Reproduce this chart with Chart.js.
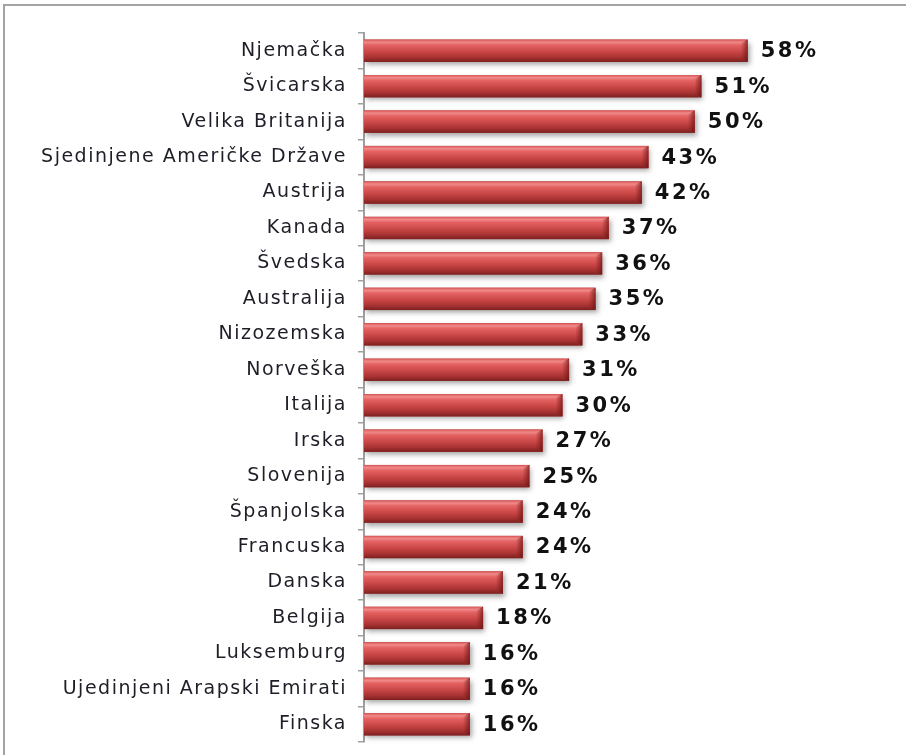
<!DOCTYPE html>
<html>
<head>
<meta charset="utf-8">
<script src="https://cdn.jsdelivr.net/npm/chart.js@4"></script>
<style>
    html, body { margin: 0; padding: 0; background: #fff; }
    .frame {
        position: absolute; left: 3px; top: 4px; width: 903px; height: 751px;
        border-top: 2px solid #a3a3a3; border-left: 2px solid #a3a3a3;
    }
    #chart { position: absolute; left: 0; top: 0; }
</style>
</head>
<body>
<div class="frame"></div>
<canvas id="chart" width="906" height="755"></canvas>
<script>
const countries = [
    'Njemačka', 'Švicarska', 'Velika Britanija', 'Sjedinjene Američke Države', 'Austrija',
    'Kanada', 'Švedska', 'Australija', 'Nizozemska', 'Norveška',
    'Italija', 'Irska', 'Slovenija', 'Španjolska', 'Francuska',
    'Danska', 'Belgija', 'Luksemburg', 'Ujedinjeni Arapski Emirati', 'Finska'
];
const shares = [58, 51, 50, 43, 42, 37, 36, 35, 33, 31, 30, 27, 25, 24, 24, 21, 18, 16, 16, 16];
const xMax = 78;

// wide Verdana-like spacing for all text
const spacing = {
    id: 'spacing',
    beforeLayout(chart) { chart.ctx.letterSpacing = '1.5px'; },
    beforeDraw(chart) { chart.ctx.letterSpacing = '1.5px'; }
};

// draws the bevelled red bars and the value labels
const barLook = {
    id: 'barLook',
    afterDatasetsDraw(chart) {
        const ctx = chart.ctx;
        const meta = chart.getDatasetMeta(0);
        meta.data.forEach((bar, i) => {
            const x0 = bar.base, x1 = bar.x;
            const h = bar.height, top = bar.y - h / 2, w = x1 - x0;

            ctx.save();
            ctx.shadowColor = 'rgba(0,0,0,0.35)';
            ctx.shadowBlur = 5;
            ctx.shadowOffsetX = 2;
            ctx.shadowOffsetY = 3;
            ctx.fillStyle = '#a83a3a';
            ctx.fillRect(x0, top, w, h);
            ctx.restore();

            const g = ctx.createLinearGradient(0, top, 0, top + h);
            g.addColorStop(0, '#d85454');
            g.addColorStop(0.12, '#f08a8a');
            g.addColorStop(0.25, '#e46262');
            g.addColorStop(0.55, '#c94646');
            g.addColorStop(0.8, '#a83232');
            g.addColorStop(1, '#7c2020');
            ctx.fillStyle = g;
            ctx.fillRect(x0, top, w, h);

            // right end bevel
            const bw = 7;
            const gr = ctx.createLinearGradient(x1 - bw, 0, x1, 0);
            gr.addColorStop(0, 'rgba(120,25,25,0)');
            gr.addColorStop(1, 'rgba(110,20,20,0.75)');
            ctx.fillStyle = gr;
            ctx.beginPath();
            ctx.moveTo(x1 - bw, top + 4);
            ctx.lineTo(x1, top);
            ctx.lineTo(x1, top + h);
            ctx.lineTo(x1 - bw, top + h - 4);
            ctx.closePath();
            ctx.fill();

            ctx.save();
            ctx.letterSpacing = '2.5px';
            ctx.fillStyle = '#111';
            ctx.font = 'bold 21px "DejaVu Sans", Verdana, sans-serif';
            ctx.textAlign = 'left';
            ctx.textBaseline = 'middle';
            ctx.fillText(shares[i] + '%', x1 + 13, bar.y + 1);
            ctx.restore();
        });
    }
};

new Chart(document.getElementById('chart'), {
    type: 'bar',
    data: {
        labels: countries,
        datasets: [{
            data: shares,
            backgroundColor: 'rgba(0,0,0,0)',
            borderWidth: 0,
            barPercentage: 0.63,
            categoryPercentage: 1
        }]
    },
    options: {
        indexAxis: 'y',
        responsive: false,
        animation: false,
        layout: { padding: { left: 4, top: 33, bottom: 13, right: 26 } },
        plugins: { legend: { display: false }, tooltip: { enabled: false } },
        scales: {
            x: { display: false, min: 0, max: xMax },
            y: {
                afterFit(scale) {
                    scale.width = 360;
                    scale.paddingTop = 0;
                    scale.paddingBottom = 0;
                },
                border: { display: true, color: '#a0a0a0', width: 2 },
                grid: { offset: true, drawOnChartArea: false, tickLength: 6, color: '#a0a0a0', lineWidth: 1.5 },
                ticks: {
                    color: '#1e1e28',
                    padding: 11,
                    font: { family: '"DejaVu Sans", Verdana, sans-serif', size: 19 }
                }
            }
        }
    },
    plugins: [spacing, barLook]
});
</script>
</body>
</html>
